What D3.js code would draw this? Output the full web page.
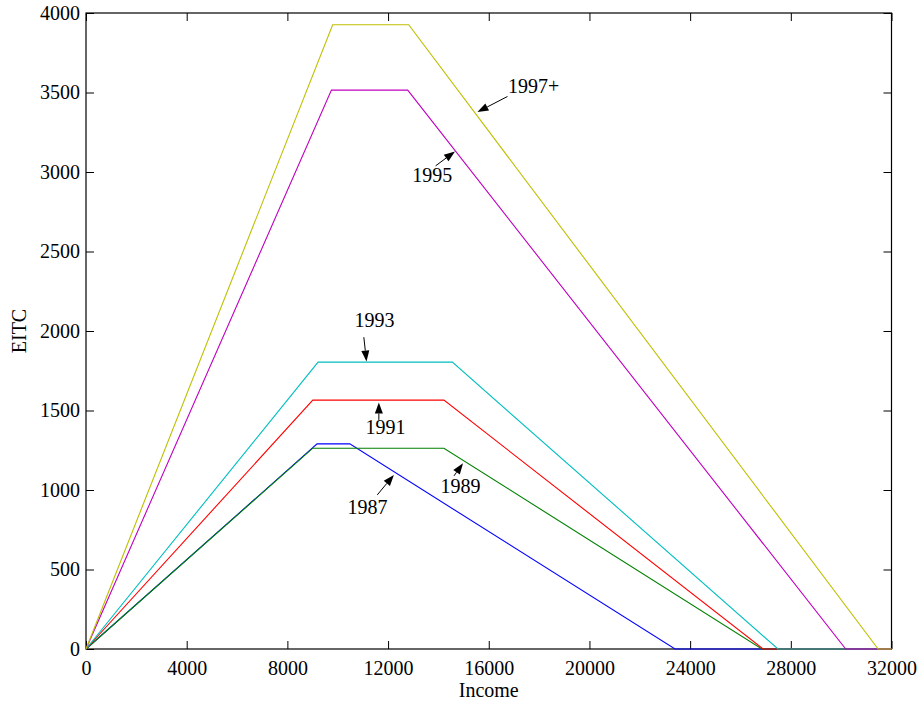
<!DOCTYPE html>
<html>
<head>
<meta charset="utf-8">
<script src="https://cdn.jsdelivr.net/npm/d3@7"></script>
<style>
  html, body { margin: 0; padding: 0; background: #fff; }
  svg { display: block; }
  text { font-family: "Liberation Serif", "Times New Roman", serif; }
</style>
</head>
<body>
<svg id="chart" width="924" height="704"></svg>
<script>
// ---- data ----
const years = ["1987", "1989", "1991", "1993", "1995", "1997+"];
const phaseInEnd = [9180, 9010, 9010, 9220, 9750, 9800];
const maxCredit = [1290, 1263, 1565, 1804, 3515, 3926];
const phaseOutStart = [10480, 14220, 14220, 14555, 12780, 12820];
const phaseOutEnd = [23400, 26850, 26900, 27490, 30180, 31470];
const incomeMax = 32000;
const xTicks = [0, 4000, 8000, 12000, 16000, 20000, 24000, 28000, 32000];
const yTicks = [0, 500, 1000, 1500, 2000, 2500, 3000, 3500, 4000];
const colors = ["#0000ff", "#008000", "#ff0000", "#00bfbf", "#bf00bf", "#bfbf00"];

// annotation labels (data units): text anchor point, arrow tail, arrow tip
const annLabel = ["1997+", "1995", "1993", "1991", "1989", "1987"];
const annTextX = [16760, 12960, 11460, 11900, 14880, 11180];
const annTextY = [3498, 2934, 2028, 1351, 983, 848];
const annAnchor = ["start", "start", "middle", "middle", "middle", "middle"];
const annTailX = [16744, 13890, 11037, 11634, 14619, 11570];
const annTailY = [3475, 3039, 1961, 1441, 1089, 969];
const annTipX = [15550, 14658, 11144, 11634, 14977, 12231];
const annTipY = [3377, 3129, 1808, 1550, 1168, 1095];

// ---- layout ----
const svg = d3.select("#chart");
const L = 86, R = 891.5, T = 13, B = 649;
const x = d3.scaleLinear().domain([0, incomeMax]).range([L, R]);
const y = d3.scaleLinear().domain([0, 4000]).range([B, T]);

const fontSize = 20;

// axes
const gB = svg.append("g").attr("transform", `translate(0,${B})`)
  .call(d3.axisBottom(x).tickValues(xTicks).tickSizeInner(-8).tickSizeOuter(0).tickPadding(12).tickFormat(d3.format("d")));
const gL = svg.append("g").attr("transform", `translate(${L},0)`)
  .call(d3.axisLeft(y).tickValues(yTicks).tickSizeInner(-8).tickSizeOuter(0).tickPadding(6).tickFormat(d3.format("d")));
const gT = svg.append("g").attr("transform", `translate(0,${T})`)
  .call(d3.axisTop(x).tickValues(xTicks).tickSizeInner(-8).tickSizeOuter(0).tickFormat(""));
const gR = svg.append("g").attr("transform", `translate(${R},0)`)
  .call(d3.axisRight(y).tickValues(yTicks).tickSizeInner(-8).tickSizeOuter(0).tickFormat(""));

[gB, gL, gT, gR].forEach(g => {
  g.select(".domain").remove();
  g.selectAll(".tick line").attr("stroke", "#000").attr("stroke-width", 1);
  g.selectAll(".tick text").attr("fill", "#000")
    .style("font-family", '"Liberation Serif", "Times New Roman", serif')
    .style("font-size", fontSize + "px");
});

// frame
svg.append("rect")
  .attr("x", L).attr("y", T).attr("width", R - L).attr("height", B - T)
  .attr("fill", "none").attr("stroke", "#000").attr("stroke-width", 1.2);

// lines
const line = d3.line().x(d => x(d[0])).y(d => y(d[1]));
years.forEach((yr, i) => {
  const pts = [
    [0, 0],
    [phaseInEnd[i], maxCredit[i]],
    [phaseOutStart[i], maxCredit[i]],
    [phaseOutEnd[i], 0],
    [incomeMax, 0]
  ];
  svg.append("path")
    .datum(pts)
    .attr("d", line)
    .attr("fill", "none")
    .attr("stroke", colors[i])
    .attr("stroke-width", 1.1);
});

// annotations
annLabel.forEach((lab, i) => {
  const x0 = x(annTailX[i]), y0 = y(annTailY[i]);
  const x1 = x(annTipX[i]), y1 = y(annTipY[i]);
  const dx = x1 - x0, dy = y1 - y0;
  const len = Math.sqrt(dx * dx + dy * dy);
  const ux = dx / len, uy = dy / len;
  const headLen = 11, headHalf = 4;
  const bx = x1 - ux * headLen, by = y1 - uy * headLen;
  svg.append("line")
    .attr("x1", x0).attr("y1", y0).attr("x2", bx).attr("y2", by)
    .attr("stroke", "#000").attr("stroke-width", 1);
  svg.append("polygon")
    .attr("points", [
      [x1, y1],
      [bx - uy * headHalf, by + ux * headHalf],
      [bx + uy * headHalf, by - ux * headHalf]
    ].map(p => p.join(",")).join(" "))
    .attr("fill", "#000");
  svg.append("text")
    .attr("x", x(annTextX[i])).attr("y", y(annTextY[i]))
    .attr("text-anchor", annAnchor[i])
    .style("font-size", fontSize + "px")
    .attr("fill", "#000")
    .text(lab);
});

// axis titles
svg.append("text")
  .attr("x", (L + R) / 2).attr("y", 697)
  .attr("text-anchor", "middle")
  .style("font-size", fontSize + "px")
  .text("Income");
svg.append("text")
  .attr("transform", `translate(26,${(T + B) / 2}) rotate(-90)`)
  .attr("text-anchor", "middle")
  .style("font-size", fontSize + "px")
  .text("EITC");
</script>
</body>
</html>
